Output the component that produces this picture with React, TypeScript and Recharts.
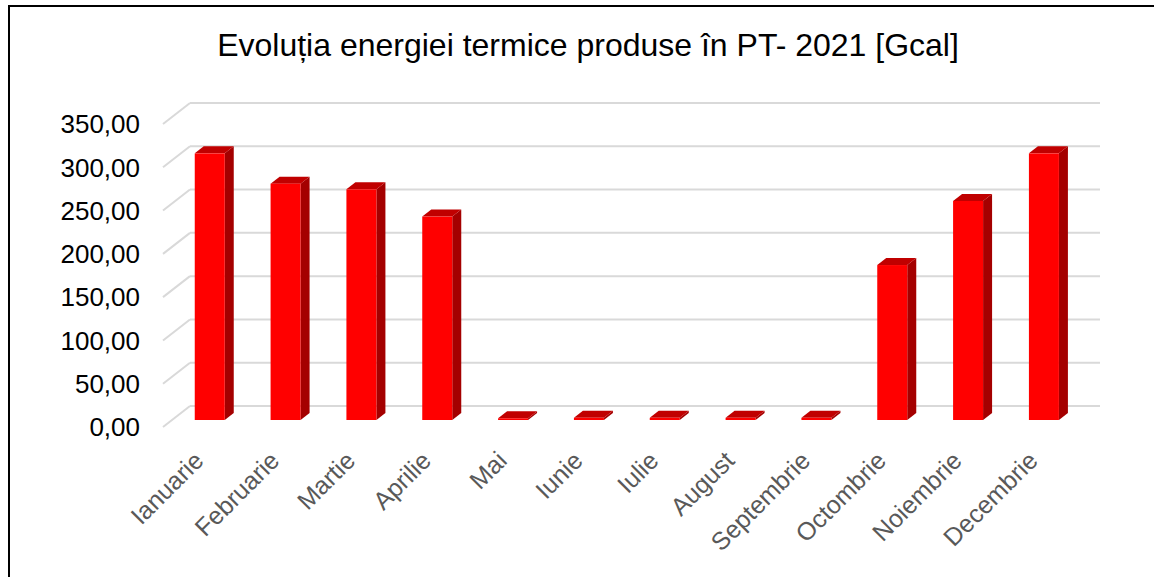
import React from 'react';
import { BarChart, Bar, XAxis, YAxis, CartesianGrid } from 'recharts';

const months = [
  'Ianuarie', 'Februarie', 'Martie', 'Aprilie', 'Mai', 'Iunie',
  'Iulie', 'August', 'Septembrie', 'Octombrie', 'Noiembrie', 'Decembrie',
];
const energy = [308, 273, 266.5, 235, 2, 2.5, 2.5, 2.5, 2.5, 179, 253, 308];
const yTicks = [0, 50, 100, 150, 200, 250, 300, 350];

const data = months.map((m, i) => ({ month: m, value: energy[i] }));

const FONT = '"Liberation Sans", Arial, sans-serif';
// oblique step for the fake 3D; bars sit in the middle third of the depth
const DX = 9;
const DY = 7;
const GRID = '#d9d9d9';

function Bar3D(props: any) {
  const { x, y, width, height } = props;
  const fx = x + DX;
  const fy = y - DY;
  const w = width;
  const h = Math.max(height, 0);
  return (
    <g>
      <polygon
        points={`${fx + w},${fy} ${fx + w + DX},${fy - DY} ${fx + w + DX},${fy + h - DY} ${fx + w},${fy + h}`}
        fill="#a40000"
      />
      <polygon
        points={`${fx},${fy} ${fx + DX},${fy - DY} ${fx + w + DX},${fy - DY} ${fx + w},${fy}`}
        fill="#c00000"
      />
      <rect x={fx} y={fy} width={w} height={h} fill="#ff0000" />
    </g>
  );
}

const gridLine = (p: any) => {
  const { x1, x2, y1 } = p;
  return (
    <g key={p.key}>
      <line x1={x1} y1={y1} x2={x1 + 3 * DX} y2={y1 - 3 * DY} stroke={GRID} strokeWidth={2} />
      <line x1={x1 + 3 * DX} y1={y1 - 3 * DY} x2={x2 + 3 * DX} y2={y1 - 3 * DY} stroke={GRID} strokeWidth={2} />
    </g>
  );
};

const XTick = (p: any) => {
  const { x, y, payload } = p;
  const ax = x - 2;
  return (
    <text
      x={ax}
      y={y}
      transform={`rotate(-45, ${ax}, ${y})`}
      textAnchor="end"
      dy="0.35em"
      fontSize={25}
      fill="#595959"
      fontFamily={FONT}
    >
      {payload.value}
    </text>
  );
};

const fmt = (v: number) => v.toFixed(2).replace('.', ',');

export default function App() {
  return (
    <div style={{ position: 'absolute', left: 0, top: 0, width: 1154, height: 577, overflow: 'hidden', background: '#fff' }}>
      <div style={{ position: 'absolute', left: 8, top: 5, width: 1160, height: 620, border: '2px solid #000' }} />
      <div
        style={{
          position: 'absolute', left: 0, top: 29, width: 1176, textAlign: 'center',
          fontFamily: FONT, fontSize: 32, lineHeight: '32px', color: '#000',
        }}
      >
        Evoluția energiei termice produse în PT- 2021 [Gcal]
      </div>
      <div style={{ position: 'absolute', left: 0, top: 0 }}>
        <BarChart
          width={1154}
          height={577}
          data={data}
          margin={{ top: 124, right: 81, bottom: 0, left: 103 }}
          barCategoryGap="30%"
        >
          <CartesianGrid vertical={false} horizontal={gridLine} />
          <XAxis
            dataKey="month"
            height={150}
            axisLine={false}
            tickLine={false}
            tickSize={0}
            tickMargin={29}
            interval={0}
            tick={<XTick />}
          />
          <YAxis
            width={60}
            domain={[0, 350]}
            ticks={yTicks}
            axisLine={false}
            tickLine={false}
            tickSize={0}
            tickMargin={23}
            tickFormatter={fmt}
            tick={{ fontSize: 26, fill: '#000', fontFamily: FONT }}
          />
          <Bar dataKey="value" shape={<Bar3D />} isAnimationActive={false} />
        </BarChart>
      </div>
    </div>
  );
}
